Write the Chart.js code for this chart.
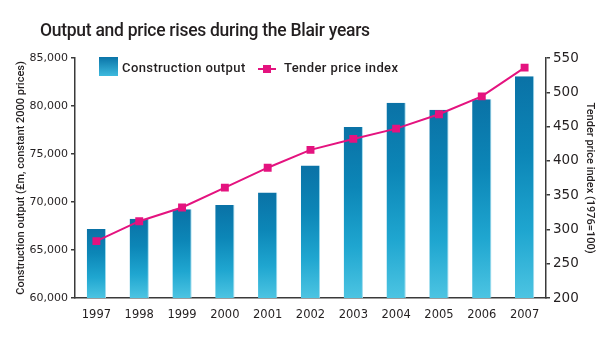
<!DOCTYPE html>
<html>
<head>
<meta charset="utf-8">
<script src="https://cdn.jsdelivr.net/npm/chart.js@4.4.1/dist/chart.umd.min.js"></script>
<style>
  body { margin: 0; background: #fff; }
  #wrap { position: relative; width: 607px; height: 341px; }
  #title { position: absolute; left: 40px; top: 20px; font: 500 17.5px Roboto, sans-serif; letter-spacing: -0.28px; color: #231f20; white-space: nowrap; line-height: 20px; }
  .legText { position: absolute; top: 60px; font: 500 13px Roboto, sans-serif; letter-spacing: 0.4px; line-height: 16px; color: #231f20; white-space: nowrap; }
  #legBox { position: absolute; left: 99px; top: 57px; width: 19px; height: 19px; background: linear-gradient(#0a74a8, #3dbade); }
  #legLine { position: absolute; left: 258px; top: 68px; width: 18px; height: 2px; background: #e4137f; }
  #legDot { position: absolute; left: 263px; top: 65px; width: 8px; height: 8px; background: #e4137f; }
</style>
</head>
<body>
<div id="wrap">
  <canvas id="chart" width="607" height="341"></canvas>
  <div id="title">Output and price rises during the Blair years</div>
  <div id="legBox"></div>
  <div class="legText" style="left:122px">Construction output</div>
  <div id="legLine"></div>
  <div id="legDot"></div>
  <div class="legText" style="left:284px">Tender price index</div>
</div>
<script>
// values
const years = ['1997', '1998', '1999', '2000', '2001', '2002', '2003', '2004', '2005', '2006', '2007'];
const constructionOutput = [67200, 68250, 69250, 69700, 71000, 73800, 77800, 80350, 79600, 80700, 83100];
const tenderPriceIndex = [283, 312, 332, 361, 390, 416, 432, 447, 468, 494, 536];

const inkColor = '#231f20';
const axisColor = '#3a3a3a';
const pink = '#e4137f';

// each bar gets its own dark-top / light-bottom gradient
function barFill(context) {
    const chart = context.chart;
    if (!chart.chartArea || context.type !== 'data') return '#1190c4';
    const y = chart.scales.y;
    const top = y.getPixelForValue(context.raw);
    const g = chart.ctx.createLinearGradient(0, top, 0, y.bottom);
    g.addColorStop(0, '#0a72a6');
    g.addColorStop(0.35, '#0c86b7');
    g.addColorStop(0.7, '#1fa6d0');
    g.addColorStop(1, '#4cc4e2');
    return g;
}

const ctx = document.getElementById('chart').getContext('2d');

new Chart(ctx, {
    type: 'bar',
    data: {
        labels: years,
        datasets: [
            {
                type: 'line',
                label: 'Tender price index',
                data: tenderPriceIndex,
                yAxisID: 'y1',
                borderColor: pink,
                borderWidth: 2,
                backgroundColor: pink,
                pointStyle: 'rect',
                pointRadius: 5.6,
                pointBorderWidth: 0,
                pointBackgroundColor: pink,
                tension: 0,
                order: 0,
            },
            {
                label: 'Construction output',
                data: constructionOutput,
                yAxisID: 'y',
                backgroundColor: barFill,
                borderColor: '#9edbee',
                borderWidth: { left: 0, top: 0, right: 1, bottom: 0 },
                barPercentage: 0.45,
                categoryPercentage: 1,
                order: 1,
            },
        ],
    },
    options: {
        responsive: false,
        animation: false,
        layout: {
            padding: { top: 58, left: 10, right: 0, bottom: 18 },
        },
        scales: {
            x: {
                grid: { display: false },
                border: { display: true, color: axisColor, width: 1.5 },
                ticks: {
                    color: inkColor,
                    font: { family: 'DejaVu Sans', size: 11.5 },
                    padding: 2,
                    maxRotation: 0,
                    autoSkip: false,
                },
                afterFit(scale) { scale.height = 25; },
            },
            y: {
                position: 'left',
                min: 60000,
                max: 85000,
                border: { display: true, color: axisColor, width: 1.5 },
                grid: { drawOnChartArea: false, tickLength: 4, color: axisColor, lineWidth: 1.5 },
                ticks: {
                    stepSize: 5000,
                    color: inkColor,
                    padding: 3,
                    font: { family: 'DejaVu Sans', size: 11 },
                    callback: v => v.toLocaleString('en-US'),
                },
                title: {
                    display: true,
                    text: 'Construction output (£m, constant 2000 prices)',
                    color: inkColor,
                    font: { family: 'Roboto', size: 11, weight: '500' },
                    padding: { top: 5, bottom: 0 },
                },
                afterFit(scale) { scale.width = 65; },
            },
            y1: {
                position: 'right',
                min: 200,
                max: 550,
                border: { display: true, color: axisColor, width: 1.5 },
                grid: { drawOnChartArea: false, tickLength: 4, color: axisColor, lineWidth: 1.5 },
                ticks: {
                    stepSize: 50,
                    color: inkColor,
                    padding: 3,
                    font: { family: 'DejaVu Sans', size: 13.5 },
                },
                title: {
                    display: true,
                    text: 'Tender price index (1976=100)',
                    color: inkColor,
                    font: { family: 'Roboto', size: 11, weight: '500' },
                    padding: { top: 11, bottom: 0 },
                },
                afterFit(scale) { scale.width = 61; },
            },
        },
        plugins: {
            legend: { display: false },
            tooltip: { enabled: false },
        },
    },
});
</script>
</body>
</html>
